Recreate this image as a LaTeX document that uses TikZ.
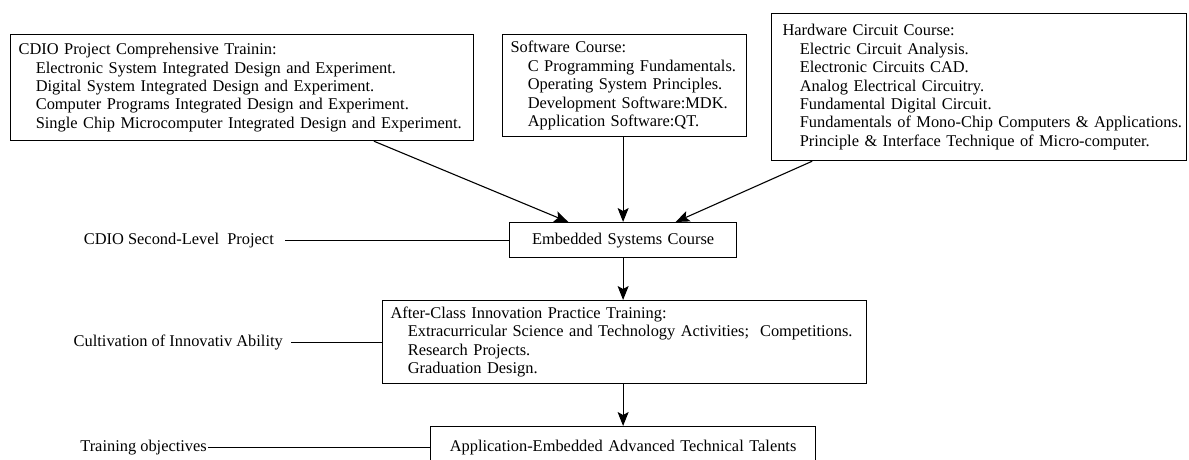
\documentclass[tikz,border=0pt]{standalone}
\usepackage{fontspec}
\setmainfont{Liberation Serif}
\usepackage{tikz}
\usetikzlibrary{arrows.meta,calc,positioning}

% one indented line of a course list
\newcommand{\itm}[1]{\mbox{\hspace*{1.05em}#1}}

\tikzset{
    course/.style={draw, line width=1.2pt, anchor=north west, align=left,
        inner xsep=8pt, inner ysep=0pt, font=\fontsize{16.4}{18.4}\selectfont},
    lbl/.style={inner ysep=2pt, font=\fontsize{16.4}{18.4}\selectfont},
    arr/.style={-{Stealth[length=14pt,width=11pt,inset=3pt]}, line width=1.1pt},
    lnk/.style={line width=1.1pt}
}

\begin{document}
\begin{tikzpicture}[x=1pt,y=-1pt]
    \useasboundingbox (0,0) rectangle (1189,460);

    % upper row of courses
    \node[course, text width=447pt, minimum height=106pt] (cdio) at (10,34)
    {CDIO Project Comprehensive Trainin:\\
     \itm{Electronic System Integrated Design and Experiment.}\\
     \itm{Digital System Integrated Design and Experiment.}\\
     \itm{Computer Programs Integrated Design and Experiment.}\\
     \itm{Single Chip Microcomputer Integrated Design and Experiment.}};

    \node[course, text width=228pt, minimum height=102pt] (soft) at (502,34)
    {Software Course:\\
     \itm{C Programming Fundamentals.}\\
     \itm{Operating System Principles.}\\
     \itm{Development Software:MDK.}\\
     \itm{Application Software:QT.}};

    \node[course, inner xsep=11pt, text width=393pt, minimum height=147pt] (hard) at (771,13)
    {Hardware Circuit Course:\\
     \itm{Electric Circuit Analysis.}\\
     \itm{Electronic Circuits CAD.}\\
     \itm{Analog Electrical Circuitry.}\\
     \itm{Fundamental Digital Circuit.}\\
     \itm{Fundamentals of Mono-Chip Computers \& Applications.}\\
     \itm{Principle \& Interface Technique of Micro-computer.}};

    % main chain
    \node[course, align=center, text width=211pt, minimum height=35pt] (emb) at (509,222)
    {Embedded Systems Course};

    \node[course, text width=468pt, minimum height=83pt] (after) at (382,300)
    {After-Class Innovation Practice Training:\\
     \itm{Extracurricular Science and Technology Activities;\ \ Competitions.}\\
     \itm{Research Projects.}\\
     \itm{Graduation Design.}};

    \node[course, align=center, text width=369pt, minimum height=42pt] (app) at (430,426)
    {Application-Embedded Advanced Technical Talents};

    % side labels
    \node[lbl, inner xsep=11pt, left=224pt of emb.west] (lvl) {CDIO Second-Level\ \ Project};
    \node[lbl, inner xsep=8pt, left=91pt of after.west] (inno) {Cultivation of Innovativ Ability};
    \node[lbl, inner xsep=1pt, left=222pt of app.west] (goal) {Training objectives};

    \draw[lnk] (lvl.east) -- (emb.west);
    \draw[lnk] (inno.east) -- (after.west);
    \draw[lnk] (goal.east) -- (app.west);

    % arrows
    \draw[arr] ($(cdio.south west)!0.784!(cdio.south east)$) -- ($(emb.north west)!0.26!(emb.north east)$);
    \draw[arr] (emb.north |- soft.south) -- (emb.north);
    \draw[arr] ($(hard.south west)!0.099!(hard.south east)$) -- ($(emb.north west)!0.73!(emb.north east)$);
    \draw[arr] (emb.south) -- (emb.south |- after.north);
    \draw[arr] (app.north |- after.south) -- (app.north);

\end{tikzpicture}
\end{document}
